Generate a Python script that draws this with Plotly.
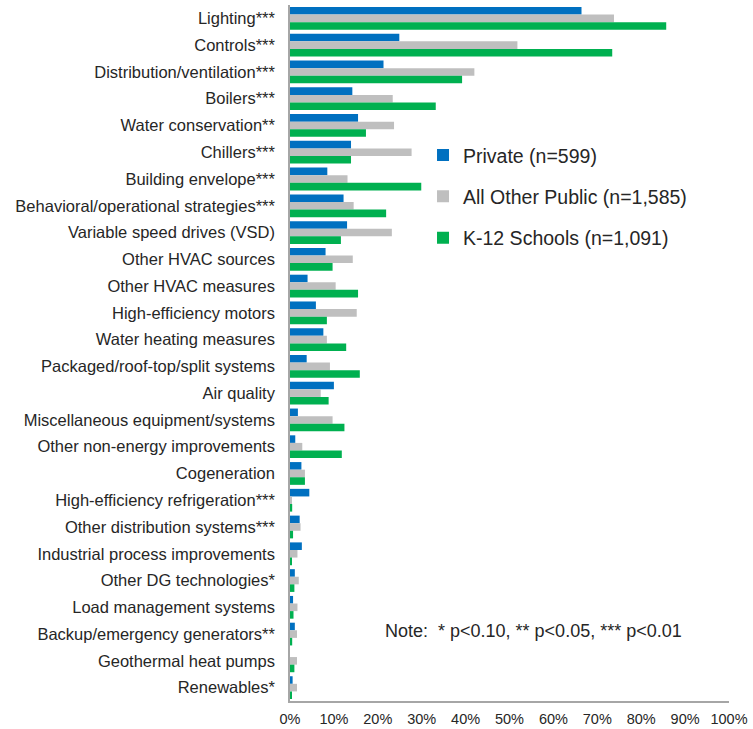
import plotly.graph_objects as go

categories = [
    "Lighting***", "Controls***", "Distribution/ventilation***", "Boilers***",
    "Water conservation**", "Chillers***", "Building envelope***",
    "Behavioral/operational strategies***", "Variable speed drives (VSD)",
    "Other HVAC sources", "Other HVAC measures", "High-efficiency motors",
    "Water heating measures", "Packaged/roof-top/split systems", "Air quality",
    "Miscellaneous equipment/systems", "Other non-energy improvements",
    "Cogeneration", "High-efficiency refrigeration***",
    "Other distribution systems***", "Industrial process improvements",
    "Other DG technologies*", "Load management systems",
    "Backup/emergency generators**", "Geothermal heat pumps", "Renewables*",
]

private = [66.4, 24.9, 21.3, 14.2, 15.5, 13.9, 8.5, 12.2, 13.0,
           8.1, 4.0, 5.9, 7.6, 3.8, 10.0, 1.8, 1.2, 2.6, 4.4,
           2.2, 2.7, 1.1, 0.7, 1.1, 0.0, 0.6]
other_public = [73.8, 51.8, 42.0, 23.4, 23.7, 27.7, 13.1, 14.5, 23.2,
                14.3, 10.4, 15.2, 8.4, 9.1, 7.0, 9.7, 2.8, 3.4, 0.3,
                2.4, 1.7, 2.0, 1.7, 1.6, 1.6, 1.6]
k12 = [85.7, 73.4, 39.2, 33.2, 17.3, 13.9, 29.9, 21.9, 11.6,
       9.7, 15.5, 8.4, 12.8, 15.9, 8.8, 12.4, 11.8, 3.4, 0.5,
       0.7, 0.3, 1.0, 0.8, 0.5, 1.0, 0.3]

series_names = ["Private (n=599)", "All Other Public (n=1,585)", "K-12 Schools (n=1,091)"]
series_values = [private, other_public, k12]
colors = ["#0070C0", "#BFBFBF", "#00B050"]

FONT = "Liberation Sans, Arial, sans-serif"
TEXT = "#262626"

fig = go.Figure()
for i, (name, vals, col) in enumerate(zip(series_names, series_values, colors)):
    fig.add_trace(go.Bar(
        y=categories, x=vals, name=name, orientation="h",
        marker=dict(color=col, line=dict(width=0)),
        legendgroup=f"g{i}",
    ))

fig.update_layout(
    width=753, height=729,
    barmode="group", bargap=0.15, bargroupgap=0,
    plot_bgcolor="white", paper_bgcolor="white",
    margin=dict(l=289.5, r=23.5, t=5, b=28, autoexpand=False),
    font=dict(family=FONT, color=TEXT, size=16),
    legend=dict(
        x=0.303, y=0.812, xanchor="left", yanchor="top",
        font=dict(size=19.5, family=FONT, color=TEXT),
        tracegroupgap=13, bgcolor="rgba(0,0,0,0)",
        itemwidth=30,
    ),
    showlegend=True,
)
fig.update_xaxes(
    range=[0, 100], dtick=10, ticksuffix="%", showgrid=False,
    showline=True, linecolor="#A6A6A6", linewidth=1.5,
    ticks="outside", ticklen=4, tickcolor="rgba(255,255,255,0)",
    tickfont=dict(size=14.5, family=FONT, color=TEXT), zeroline=False,
    automargin=False,
)
fig.update_yaxes(
    autorange="reversed", showgrid=False, showline=True,
    linecolor="#A6A6A6", linewidth=1.5, ticks="outside", ticklen=10,
    tickcolor="rgba(255,255,255,0)", tickfont=dict(size=16.5, family=FONT, color=TEXT),
    automargin=False,
)
fig.add_annotation(
    text="Note:  * p<0.10, ** p<0.05, *** p<0.01",
    xref="paper", yref="paper", x=0.2125, y=0.10,
    xanchor="left", yanchor="middle", showarrow=False,
    font=dict(size=18, family=FONT, color=TEXT),
)

fig.write_html("out.html", config={"displayModeBar": False},
               post_script="document.body.style.margin='0';")
